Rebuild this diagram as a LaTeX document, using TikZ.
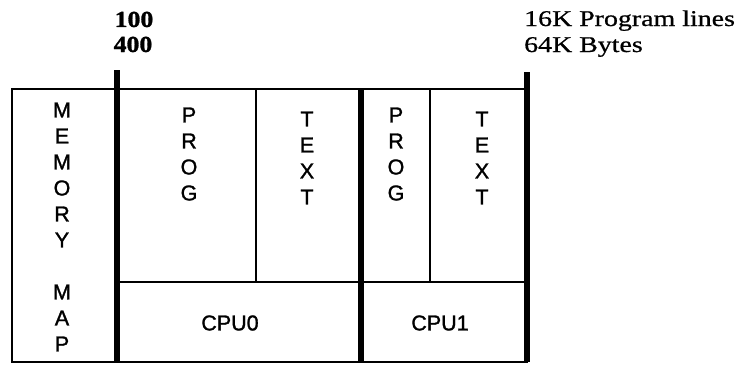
\documentclass[tikz,border=0pt]{standalone}
\usepackage{fontspec}
\setmainfont{Liberation Serif}
\newfontfamily\wserif[FakeStretch=1.24,FakeBold=0.8]{Liberation Serif}
\newfontfamily\bserif[FakeStretch=1.12,FakeBold=1.2]{Liberation Serif}
\newfontfamily\lsans[FakeBold=1.3]{Liberation Sans}
\tikzset{
  thin line/.style={line width=1.4pt},
  thick bar/.style={line width=6.5pt, line cap=butt},
  letter/.style={font=\lsans\fontsize{21.5}{25}\selectfont, inner sep=0pt, anchor=center},
  label/.style={font=\lsans\fontsize{21.5}{25}\selectfont, inner sep=0pt, anchor=center},
  numtext/.style={font=\bserif\bfseries\fontsize{23}{26}\selectfont, inner sep=0pt, anchor=base},
  sidetext/.style={font=\wserif\fontsize{22.5}{26}\selectfont, inner sep=0pt, anchor=base west}
}
\begin{document}
\begin{tikzpicture}[x=1pt,y=-1pt]
\useasboundingbox (0,0) rectangle (741,364);
% key points
\coordinate (tl) at (12,89);
\coordinate (br) at (527,362);
\coordinate (b1t) at (117,70);
\coordinate (b1b) at (117,362);
\coordinate (b2t) at (361,89);
\coordinate (b2b) at (361,362);
\coordinate (b3t) at (527,72);
\coordinate (b3b) at (527,362);
\coordinate (hl) at (117,282);
\coordinate (hr) at (527,282);
\coordinate (d1t) at (256,89);
\coordinate (d1b) at (256,282);
\coordinate (d2t) at (430,89);
\coordinate (d2b) at (430,282);
% thin outlines
\draw[thin line] (tl) rectangle (br);
\draw[thin line] (hl) -- (hr);
\draw[thin line] (d1t) -- (d1b);
\draw[thin line] (d2t) -- (d2b);
% thick bars
\draw[thick bar] (b1t) -- (b1b);
\draw[thick bar] (b2t) -- (b2b);
\draw[thick bar] (b3t) -- (b3b);
% top labels
\node[numtext] (n100) at (134,27) {100};
\node[numtext] (n400) at (133,52) {400};
\node[sidetext] (prl) at (524,26) {16K Program lines};
\node[sidetext] (byt) at (524,52) {64K Bytes};
% MEMORY MAP
\foreach \c [count=\i] in {M,E,M,O,R,Y} {
  \node[letter] (mem-\i) at (62,{110+26*(\i-1)}) {\c};
}
\foreach \c [count=\i] in {M,A,P} {
  \node[letter] (map-\i) at (62,{292+26*(\i-1)}) {\c};
}
% PROG / TEXT
\foreach \c [count=\i] in {P,R,O,G} {
  \node[letter] (pa-\i) at (189,{115+26*(\i-1)}) {\c};
  \node[letter] (pb-\i) at (396,{115+26*(\i-1)}) {\c};
}
\foreach \c [count=\i] in {T,E,X,T} {
  \node[letter] (ta-\i) at (307,{119+26*(\i-1)}) {\c};
  \node[letter] (tb-\i) at (482,{119+26*(\i-1)}) {\c};
}
% CPU labels
\node[label] (cpu0) at (230,323) {CPU0};
\node[label] (cpu1) at (440,323) {CPU1};
\end{tikzpicture}
\end{document}
